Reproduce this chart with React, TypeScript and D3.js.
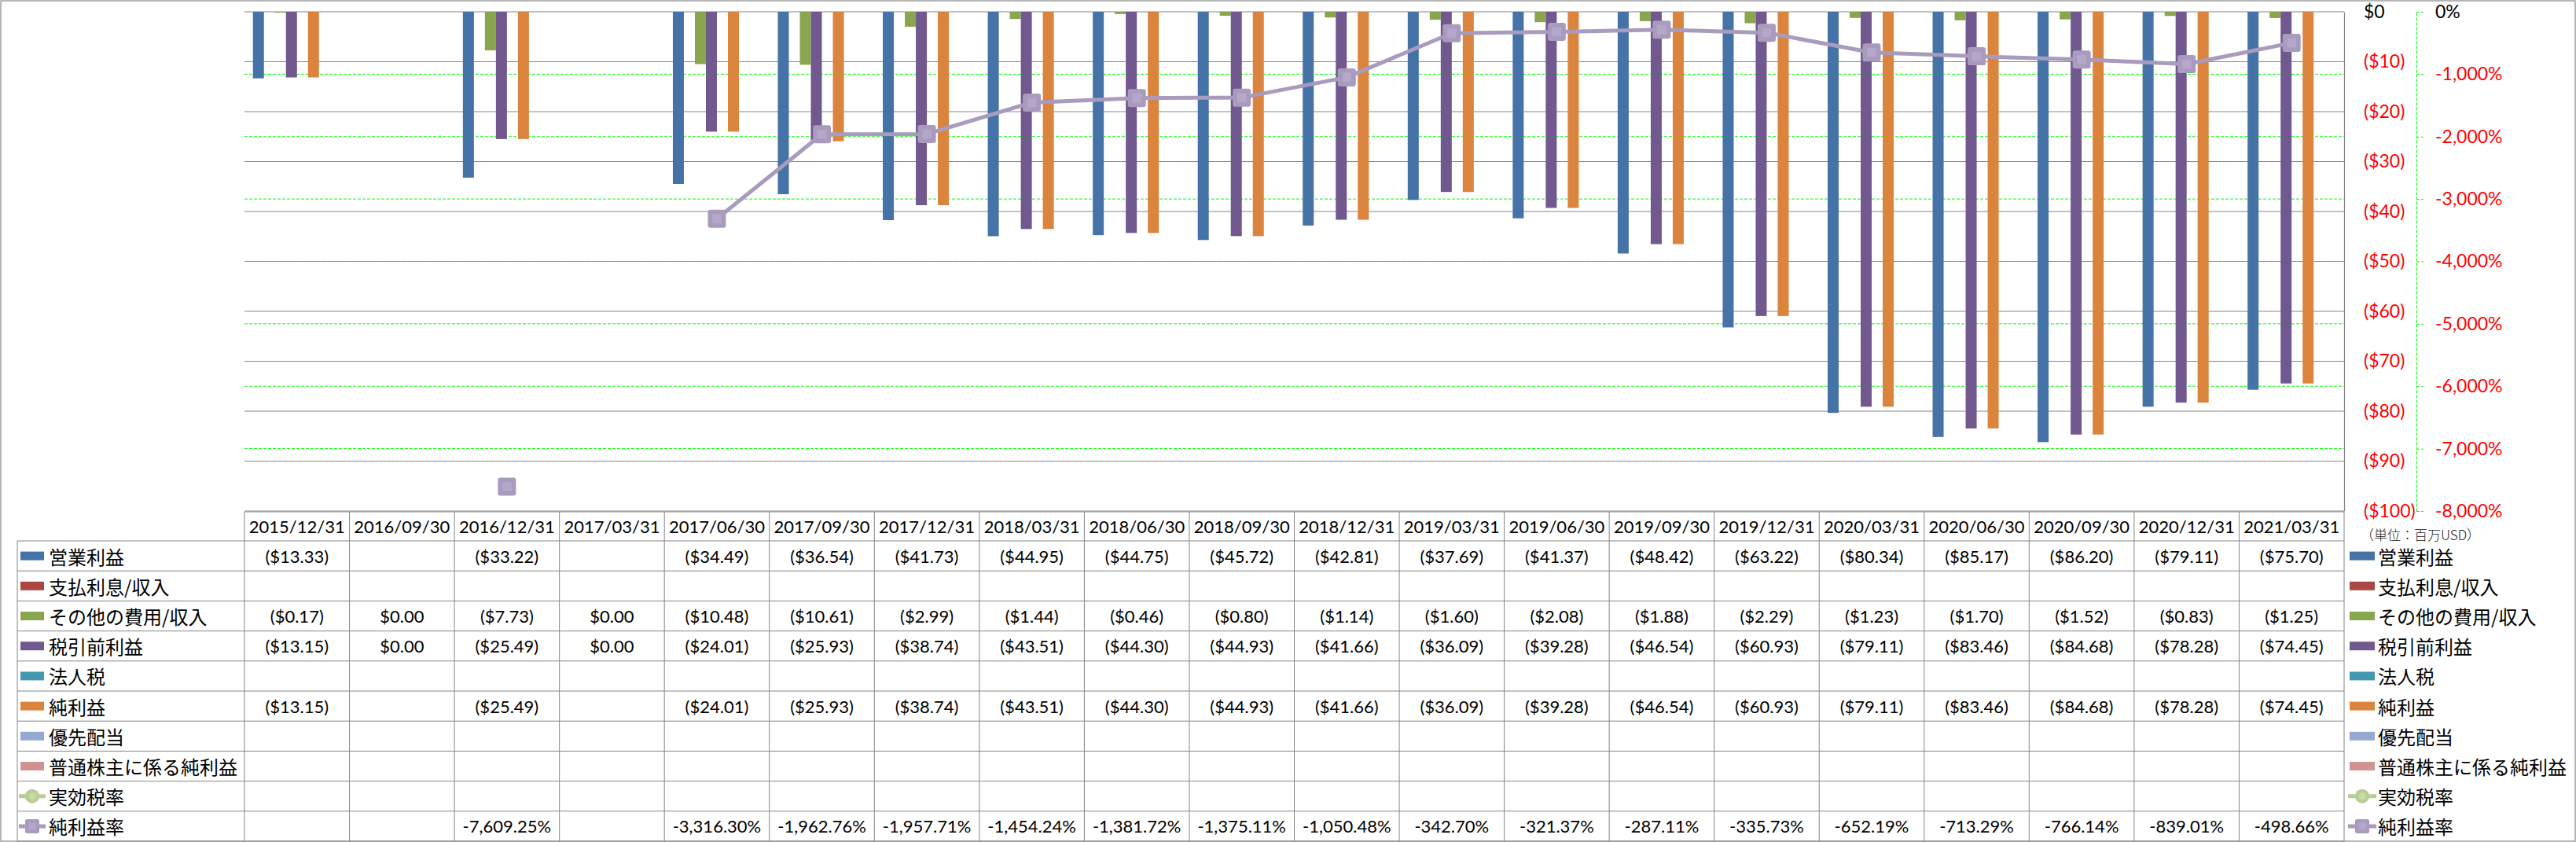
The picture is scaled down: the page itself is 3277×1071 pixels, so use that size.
import * as d3 from 'd3';
import React, { useEffect, useRef } from 'react';

const categories = [
  '2015/12/31', '2016/09/30', '2016/12/31', '2017/03/31', '2017/06/30',
  '2017/09/30', '2017/12/31', '2018/03/31', '2018/06/30', '2018/09/30',
  '2018/12/31', '2019/03/31', '2019/06/30', '2019/09/30', '2019/12/31',
  '2020/03/31', '2020/06/30', '2020/09/30', '2020/12/31', '2021/03/31',
];

// 単位: 百万USD
const operatingIncome = [
  -13.33, null, -33.22, null, -34.49, -36.54, -41.73, -44.95, -44.75, -45.72,
  -42.81, -37.69, -41.37, -48.42, -63.22, -80.34, -85.17, -86.2, -79.11, -75.7,
];
const interestIncome: (number | null)[] = [];
const otherIncome = [
  -0.17, 0, -7.73, 0, -10.48, -10.61, -2.99, -1.44, -0.46, -0.8,
  -1.14, -1.6, -2.08, -1.88, -2.29, -1.23, -1.7, -1.52, -0.83, -1.25,
];
const pretaxIncome = [
  -13.15, 0, -25.49, 0, -24.01, -25.93, -38.74, -43.51, -44.3, -44.93,
  -41.66, -36.09, -39.28, -46.54, -60.93, -79.11, -83.46, -84.68, -78.28, -74.45,
];
const incomeTax: (number | null)[] = [];
const netIncome = [
  -13.15, null, -25.49, null, -24.01, -25.93, -38.74, -43.51, -44.3, -44.93,
  -41.66, -36.09, -39.28, -46.54, -60.93, -79.11, -83.46, -84.68, -78.28, -74.45,
];
const preferredDividends: (number | null)[] = [];
const netIncomeCommon: (number | null)[] = [];

// %
const effectiveTaxRate: (number | null)[] = [];
const netMargin = [
  null, null, -7609.25, null, -3316.3, -1962.76, -1957.71, -1454.24, -1381.72, -1375.11,
  -1050.48, -342.7, -321.37, -287.11, -335.73, -652.19, -713.29, -766.14, -839.01, -498.66,
];

const moneyTicks = [0, -10, -20, -30, -40, -50, -60, -70, -80, -90, -100];
const percentTicks = [0, -1000, -2000, -3000, -4000, -5000, -6000, -7000, -8000];

const barSeries = [
  { name: '営業利益', color: '#4572A7', values: operatingIncome },
  { name: '支払利息/収入', color: '#AA4643', values: interestIncome },
  { name: 'その他の費用/収入', color: '#89A54E', values: otherIncome },
  { name: '税引前利益', color: '#71588F', values: pretaxIncome },
  { name: '法人税', color: '#4198AF', values: incomeTax },
  { name: '純利益', color: '#DB843D', values: netIncome },
  { name: '優先配当', color: '#93A9CF', values: preferredDividends },
  { name: '普通株主に係る純利益', color: '#D19392', values: netIncomeCommon },
];

const lineSeries = [
  { name: '実効税率', color: '#B9CD96', marker: 'circle', values: effectiveTaxRate },
  { name: '純利益率', color: '#A99BBD', marker: 'square', values: netMargin },
];

const W = 3277;
const H = 1071;
const plot = { left: 311, right: 2982, top: 15, bottom: 650 };
const table = { legendLeft: 22, headerTop: 651, rowTop: 688, rowH: 38.2 };
const GRID = '#868686';
const LIME = '#00FF00';
const NUM_FONT = "Lato, 'Noto Sans CJK JP', sans-serif";
const JP_FONT = "'Noto Sans CJK JP', sans-serif";

const loc = d3.formatLocale({
  decimal: '.', thousands: ',', grouping: [3], currency: ['$', ''], minus: '-',
});
const fmt2 = loc.format(',.2f');
const fmt0 = loc.format(',.0f');
const money = (v: number) => (v < 0 ? `($${fmt2(-v)})` : `$${fmt2(v)}`);
const pct = (v: number) => `${fmt2(v)}%`;

export default function App() {
  const svgRef = useRef<SVGSVGElement>(null);

  useEffect(() => {
    if (!svgRef.current) return;
    const svg = d3.select(svgRef.current);
    svg.selectAll('*').remove();

    const x0 = d3
      .scaleBand()
      .domain(categories)
      .range([plot.left, plot.right])
      .paddingInner(0.161)
      .paddingOuter(0.0805);
    const x1 = d3
      .scaleBand()
      .domain(barSeries.map(s => s.name))
      .range([0, x0.bandwidth()]);
    const step = x0.step();
    const colLeft = (i: number) => plot.left + i * step;

    const y = d3.scaleLinear().domain([-100, 0]).range([plot.bottom, plot.top]);
    const y2 = d3.scaleLinear().domain([-8000, 0]).range([plot.bottom, plot.top]);

    // outer frame
    svg.append('rect')
      .attr('x', 1).attr('y', 1).attr('width', W - 2).attr('height', H - 2)
      .attr('fill', 'white').attr('stroke', GRID).attr('stroke-width', 1.2);

    // gridlines
    svg.append('g')
      .selectAll('line')
      .data(moneyTicks)
      .join('line')
      .attr('x1', plot.left).attr('x2', plot.right)
      .attr('y1', d => y(d)).attr('y2', d => y(d))
      .attr('stroke', GRID).attr('stroke-width', 1);

    svg.append('g')
      .selectAll('line')
      .data(percentTicks.filter(t => t !== 0 && t !== -8000))
      .join('line')
      .attr('x1', plot.left).attr('x2', plot.right)
      .attr('y1', d => y2(d)).attr('y2', d => y2(d))
      .attr('stroke', LIME).attr('stroke-width', 1).attr('stroke-dasharray', '4,2');

    // bars
    const bars = svg.append('g');
    barSeries.forEach(s => {
      categories.forEach((c, i) => {
        const v = s.values[i];
        if (v === null || v === undefined) return;
        const bx = (x0(c) || 0) + (x1(s.name) || 0);
        bars.append('rect')
          .attr('x', bx)
          .attr('y', Math.min(y(v), y(0)))
          .attr('width', x1.bandwidth())
          .attr('height', Math.abs(y(v) - y(0)))
          .attr('fill', s.color);
      });
    });

    // net margin line
    const cx = (i: number) => (x0(categories[i]) || 0) + x0.bandwidth() / 2;
    lineSeries.forEach(s => {
      const pts = categories.map((_, i) => ({ i, v: s.values[i] ?? null }));
      const line = d3
        .line<{ i: number; v: number | null }>()
        .defined(d => d.v !== null)
        .x(d => cx(d.i))
        .y(d => y2(d.v as number));
      svg.append('path')
        .attr('d', line(pts))
        .attr('fill', 'none')
        .attr('stroke', s.color)
        .attr('stroke-width', 5)
        .attr('stroke-linejoin', 'round');
      pts.filter(d => d.v !== null).forEach(d => {
        drawMarker(svg, s.marker, s.color, cx(d.i), y2(d.v as number), 23);
      });
    });

    // primary axis (right)
    const ax = svg.append('g')
      .attr('transform', `translate(${plot.right},0)`)
      .call(
        d3.axisRight(y)
          .tickValues(moneyTicks)
          .tickSize(0)
          .tickPadding(25)
          .tickFormat(d => (+d === 0 ? '$0' : `($${fmt0(-d)})`))
      );
    ax.select('.domain').attr('stroke', GRID).attr('stroke-width', 1.2);
    ax.selectAll('text')
      .attr('font-family', NUM_FONT)
      .attr('font-size', 23)
      .attr('fill', (d: any) => (+d === 0 ? '#000' : '#FF0000'));

    // secondary axis
    const ax2 = svg.append('g')
      .attr('transform', 'translate(3074,0)')
      .call(
        d3.axisRight(y2)
          .tickValues(percentTicks)
          .tickSize(9)
          .tickSizeOuter(0)
          .tickPadding(15)
          .tickFormat(d => `${fmt0(+d)}%`)
      );
    ax2.select('.domain').attr('stroke', LIME).attr('stroke-dasharray', '4,2');
    ax2.selectAll('line').attr('stroke', LIME).attr('stroke-dasharray', '4,2');
    ax2.selectAll('text')
      .attr('font-family', NUM_FONT)
      .attr('font-size', 23)
      .attr('fill', (d: any) => (+d === 0 ? '#000' : '#FF0000'));

    svg.append('text')
      .attr('x', 3003).attr('y', 679)
      .attr('dominant-baseline', 'central')
      .attr('font-family', JP_FONT)
      .attr('font-weight', 300)
      .attr('font-size', 17)
      .attr('fill', '#222')
      .text('（単位：百万USD）');

    // data table
    const rows = [
      ...barSeries.map(s => ({ ...s, kind: 'bar', marker: '', fmt: money })),
      ...lineSeries.map(s => ({ ...s, kind: 'line', fmt: pct })),
    ];
    const tableBottom = table.rowTop + rows.length * table.rowH;
    const tg = svg.append('g');

    tg.append('line')
      .attr('x1', plot.left).attr('x2', plot.right)
      .attr('y1', table.headerTop).attr('y2', table.headerTop)
      .attr('stroke', GRID);
    d3.range(rows.length + 1).forEach(r => {
      const ry = table.rowTop + r * table.rowH;
      tg.append('line')
        .attr('x1', table.legendLeft).attr('x2', plot.right)
        .attr('y1', ry).attr('y2', ry)
        .attr('stroke', GRID);
    });
    tg.append('line')
      .attr('x1', table.legendLeft).attr('x2', table.legendLeft)
      .attr('y1', table.rowTop).attr('y2', tableBottom)
      .attr('stroke', GRID);
    d3.range(categories.length + 1).forEach(i => {
      tg.append('line')
        .attr('x1', colLeft(i)).attr('x2', colLeft(i))
        .attr('y1', table.headerTop).attr('y2', tableBottom)
        .attr('stroke', GRID);
    });

    tg.selectAll('text.hdr')
      .data(categories)
      .join('text')
      .attr('class', 'hdr')
      .attr('x', (_, i) => colLeft(i) + step / 2)
      .attr('y', (table.headerTop + table.rowTop) / 2)
      .attr('text-anchor', 'middle')
      .attr('dominant-baseline', 'central')
      .attr('font-family', NUM_FONT)
      .attr('font-size', 22)
      .text(d => d);

    rows.forEach((row, r) => {
      const cyRow = table.rowTop + (r + 0.5) * table.rowH;
      categories.forEach((_, i) => {
        const v = row.values[i];
        if (v === null || v === undefined) return;
        tg.append('text')
          .attr('x', colLeft(i) + step / 2)
          .attr('y', cyRow)
          .attr('text-anchor', 'middle')
          .attr('dominant-baseline', 'central')
          .attr('font-family', NUM_FONT)
          .attr('font-size', 22)
          .text(row.fmt(v));
      });
      // legend keys inside table and on the right
      [
        { kx: 26, kw: 30, tx: 62 },
        { kx: 2989, kw: 32, tx: 3025 },
      ].forEach(k => {
        if (row.kind === 'bar') {
          tg.append('rect')
            .attr('x', k.kx).attr('y', cyRow - 5.5)
            .attr('width', k.kw).attr('height', 11)
            .attr('fill', row.color);
        } else {
          tg.append('line')
            .attr('x1', k.kx - 2).attr('x2', k.kx + k.kw + 2)
            .attr('y1', cyRow).attr('y2', cyRow)
            .attr('stroke', row.color).attr('stroke-width', 5);
          drawMarker(tg, row.marker, row.color, k.kx + k.kw / 2, cyRow, 18);
        }
        tg.append('text')
          .attr('x', k.tx)
          .attr('y', cyRow)
          .attr('dominant-baseline', 'central')
          .attr('font-family', JP_FONT)
          .attr('font-size', 24)
          .attr('fill', '#000')
          .text(row.name);
      });
    });
  }, []);

  return (
    <div style={{ position: 'absolute', left: 0, top: 0 }}>
      <svg ref={svgRef} width={W} height={H} style={{ display: 'block' }} />
    </div>
  );
}

function drawMarker(
  g: d3.Selection<any, unknown, null, undefined>,
  kind: string,
  color: string,
  x: number,
  y: number,
  size: number
) {
  if (kind === 'circle') {
    g.append('circle').attr('cx', x).attr('cy', y).attr('r', size / 2).attr('fill', color);
    g.append('circle').attr('cx', x).attr('cy', y).attr('r', size / 4)
      .attr('fill', d3.color(color)!.brighter(0.2).toString());
    return;
  }
  g.append('rect')
    .attr('x', x - size / 2).attr('y', y - size / 2)
    .attr('width', size).attr('height', size)
    .attr('rx', size * 0.14)
    .attr('fill', color);
  g.append('rect')
    .attr('x', x - size / 4).attr('y', y - size / 4)
    .attr('width', size / 2).attr('height', size / 2)
    .attr('fill', d3.color(color)!.brighter(0.2).toString());
}
